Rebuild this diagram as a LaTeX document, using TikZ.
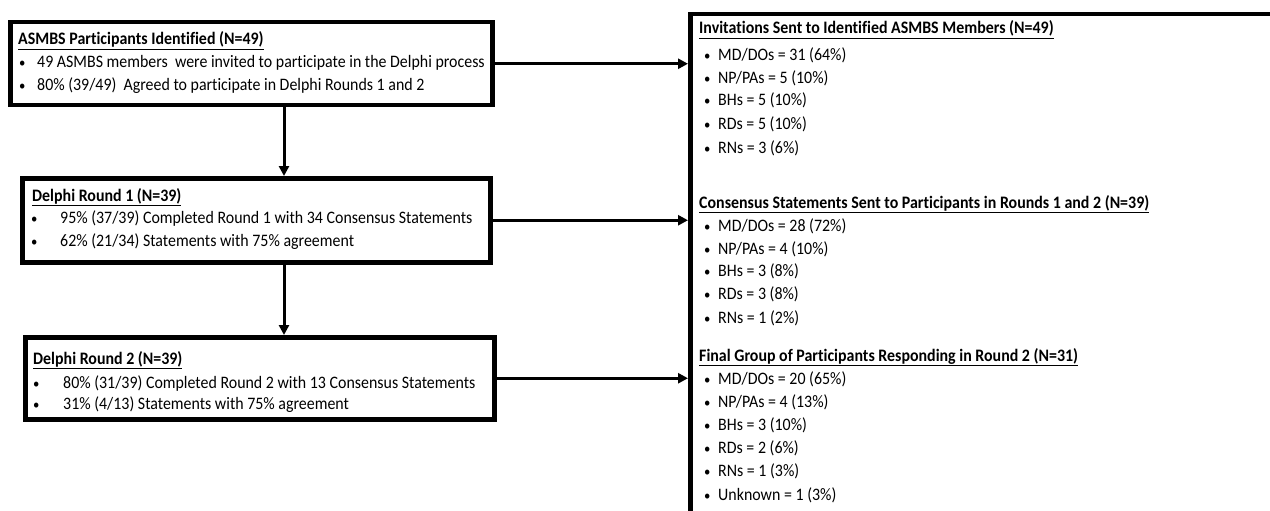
\documentclass[tikz,border=0pt]{standalone}
\usepackage{fontspec}
\setmainfont{Carlito}[FakeStretch=0.91,Ligatures=NoCommon]
\usetikzlibrary{arrows.meta}
\tikzset{
  boxst/.style={draw=black,line width=4.5pt,anchor=north west,inner sep=0pt},
  txt/.style={anchor=base west,inner sep=0pt,font=\fontsize{17.5}{20}\selectfont},
  bul/.style={anchor=base west,inner sep=0pt,font=\fontsize{14}{16}\selectfont},
  arr/.style={line width=3pt,-{Triangle[length=10pt,width=10pt]}},
}
\newcommand{\ttl}[1]{\underline{\textbf{#1}}}
\begin{document}
\begin{tikzpicture}[x=1pt,y=-1pt]
\useasboundingbox (0,0) rectangle (1270,511);
% boxes
\node[boxst,minimum width=482pt,minimum height=83pt] (b1) at (8,20) {};
\node[boxst,minimum width=468pt,minimum height=84pt] (b2) at (20,176) {};
\node[boxst,minimum width=469pt,minimum height=82pt] (b3) at (23,335) {};
\node[boxst,minimum width=620pt,minimum height=540pt] (rb) at (688,12) {};
\coordinate (va) at (284,0);
% arrows
\draw[arr] (b1.east) -- (b1.east -| rb.west);
\draw[arr] (b2.east) -- (b2.east -| rb.west);
\draw[arr] (b3.east) -- (b3.east -| rb.west);
\draw[arr] (b1.south -| va) -- (b2.north -| va);
\draw[arr] (b2.south -| va) -- (b3.north -| va);
% box 1 text
\node[txt] (t1) at (18,45) {\ttl{ASMBS Participants Identified (N=49)}};
\node[bul] (t1a) at (19,68) {\textbullet};
\node[txt] (t1b) at (37,68) {49 ASMBS members\ \ were invited to participate in the Delphi process};
\node[bul] (t1c) at (19,91) {\textbullet};
\node[txt] (t1d) at (37,91) {80\% (39/49)\ \ Agreed to participate in Delphi Rounds 1 and 2};
% box 2 text
\node[txt] (t2) at (32,201) {\ttl{Delphi Round 1 (N=39)}};
\node[bul] (t2a) at (31,223) {\textbullet};
\node[txt] (t2b) at (60,223) {95\% (37/39) Completed Round 1 with 34 Consensus Statements};
\node[bul] (t2c) at (31,246) {\textbullet};
\node[txt] (t2d) at (60,246) {62\% (21/34) Statements with 75\% agreement};
% box 3 text
\node[txt] (t3) at (33,364) {\ttl{Delphi Round 2 (N=39)}};
\node[bul] (t3a) at (33,388) {\textbullet};
\node[txt] (t3b) at (63,388) {80\% (31/39) Completed Round 2 with 13 Consensus Statements};
\node[bul] (t3c) at (33,409) {\textbullet};
\node[txt] (t3d) at (63,409) {31\% (4/13) Statements with 75\% agreement};
% right box text
\node[txt] (r1) at (699,34) {\ttl{Invitations Sent to Identified ASMBS Members (N=49)}};
\foreach \y/\t [count=\i] in {61/{MD/DOs = 31 (64\%)},84/{NP/PAs = 5 (10\%)},106/{BHs = 5 (10\%)},129/{RDs = 5 (10\%)},153/{RNs = 3 (6\%)}}{
  \node[bul] (r1b\i) at (704,\y) {\textbullet};
  \node[txt] (r1t\i) at (718,\y) {\t};
}
\node[txt] (r2) at (699,208) {\ttl{Consensus Statements Sent to Participants in Rounds 1 and 2 (N=39)}};
\foreach \y/\t [count=\i] in {231/{MD/DOs = 28 (72\%)},254/{NP/PAs = 4 (10\%)},276/{BHs = 3 (8\%)},299/{RDs = 3 (8\%)},323/{RNs = 1 (2\%)}}{
  \node[bul] (r2b\i) at (704,\y) {\textbullet};
  \node[txt] (r2t\i) at (718,\y) {\t};
}
\node[txt] (r3) at (699,361) {\ttl{Final Group of Participants Responding in Round 2 (N=31)}};
\foreach \y/\t [count=\i] in {384/{MD/DOs = 20 (65\%)},407/{NP/PAs = 4 (13\%)},430/{BHs = 3 (10\%)},453/{RDs = 2 (6\%)},476/{RNs = 1 (3\%)},500/{Unknown = 1 (3\%)}}{
  \node[bul] (r3b\i) at (704,\y) {\textbullet};
  \node[txt] (r3t\i) at (718,\y) {\t};
}
\end{tikzpicture}
\end{document}
